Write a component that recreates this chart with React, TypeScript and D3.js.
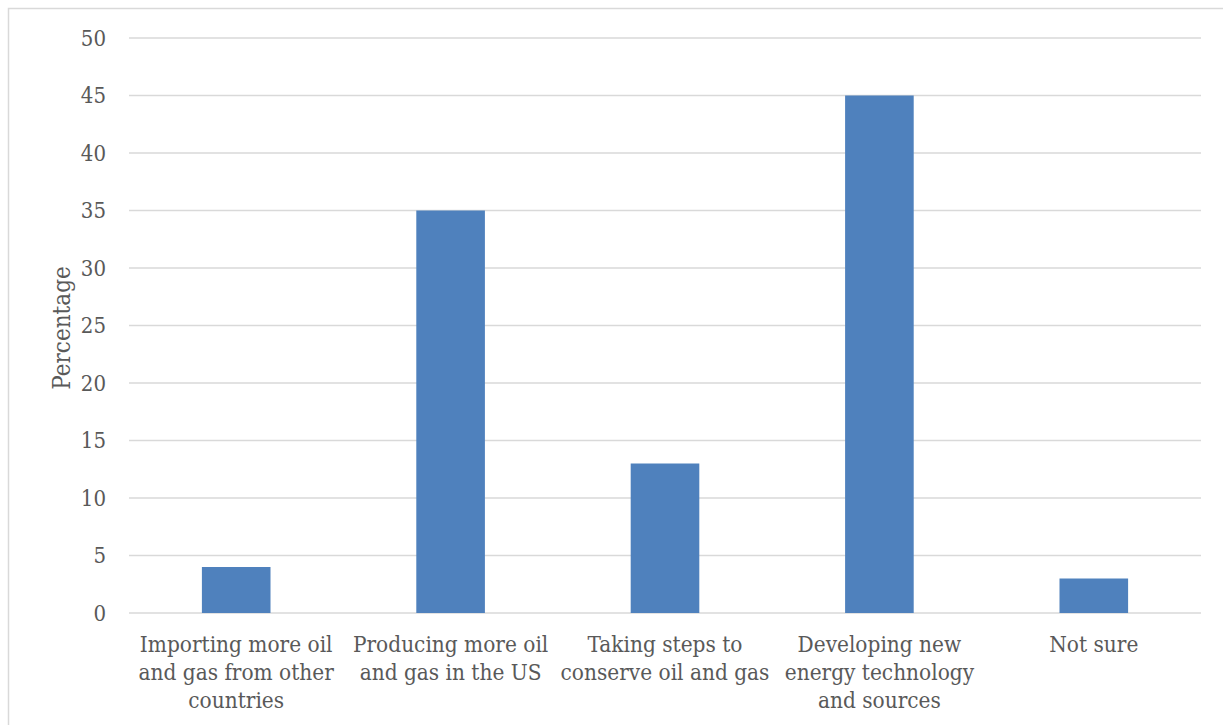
import React from "react";
import * as d3 from "d3";

const categories: string[][] = [
  ["Importing more oil", "and gas from other", "countries"],
  ["Producing more oil", "and gas in the US"],
  ["Taking steps to", "conserve oil and gas"],
  ["Developing new", "energy technology", "and sources"],
  ["Not sure"],
];
const values: number[] = [4, 35, 13, 45, 3];
const yTicks: number[] = [0, 5, 10, 15, 20, 25, 30, 35, 40, 45, 50];
const yTitle = "Percentage";

const W = 1223;
const H = 725;
const plotLeft = 129;
const plotRight = 1201;
const plotTop = 38;
const plotBottom = 613;
const FONT = "'DejaVu Serif Condensed', 'DejaVu Serif', serif";
const TEXT = "#595959";

export default function App() {
  const x = d3
    .scaleBand<number>()
    .domain(d3.range(categories.length))
    .range([plotLeft, plotRight])
    .paddingInner(0.68)
    .paddingOuter(0.34);
  const y = d3.scaleLinear().domain([0, 50]).range([plotBottom, plotTop]);
  const band = (plotRight - plotLeft) / categories.length;

  return (
    <svg
      width={W}
      height={H}
      style={{ position: "absolute", left: 0, top: 0, display: "block" }}
    >
      <rect x={0} y={0} width={W} height={H} fill="#fff" />
      <rect x={8.5} y={8.5} width={W + 20} height={H + 20} fill="#fff" stroke="#d9d9d9" strokeWidth={1.5} />
      {yTicks.map((t) => (
        <g key={t}>
          <line x1={plotLeft} x2={plotRight} y1={y(t)} y2={y(t)} stroke="#d9d9d9" strokeWidth={1.3} />
          <text
            x={106}
            y={y(t)}
            textAnchor="end"
            dominantBaseline="central"
            fontFamily={FONT}
            fontSize={22}
            fill={TEXT}
          >
            {t}
          </text>
        </g>
      ))}
      {values.map((v, i) => (
        <rect
          key={i}
          x={x(i)}
          y={y(v)}
          width={x.bandwidth()}
          height={plotBottom - y(v)}
          fill="#4f81bd"
        />
      ))}
      {categories.map((lines, i) => (
        <text
          key={i}
          x={plotLeft + band * (i + 0.5)}
          textAnchor="middle"
          fontFamily={FONT}
          fontSize={22.4}
          fill={TEXT}
        >
          {lines.map((l, j) => (
            <tspan key={j} x={plotLeft + band * (i + 0.5)} y={652 + j * 28}>
              {l}
            </tspan>
          ))}
        </text>
      ))}
      <text
        transform={`translate(62, 328) rotate(-90)`}
        textAnchor="middle"
        dominantBaseline="central"
        fontFamily={FONT}
        fontSize={24}
        fill={TEXT}
      >
        {yTitle}
      </text>
    </svg>
  );
}
